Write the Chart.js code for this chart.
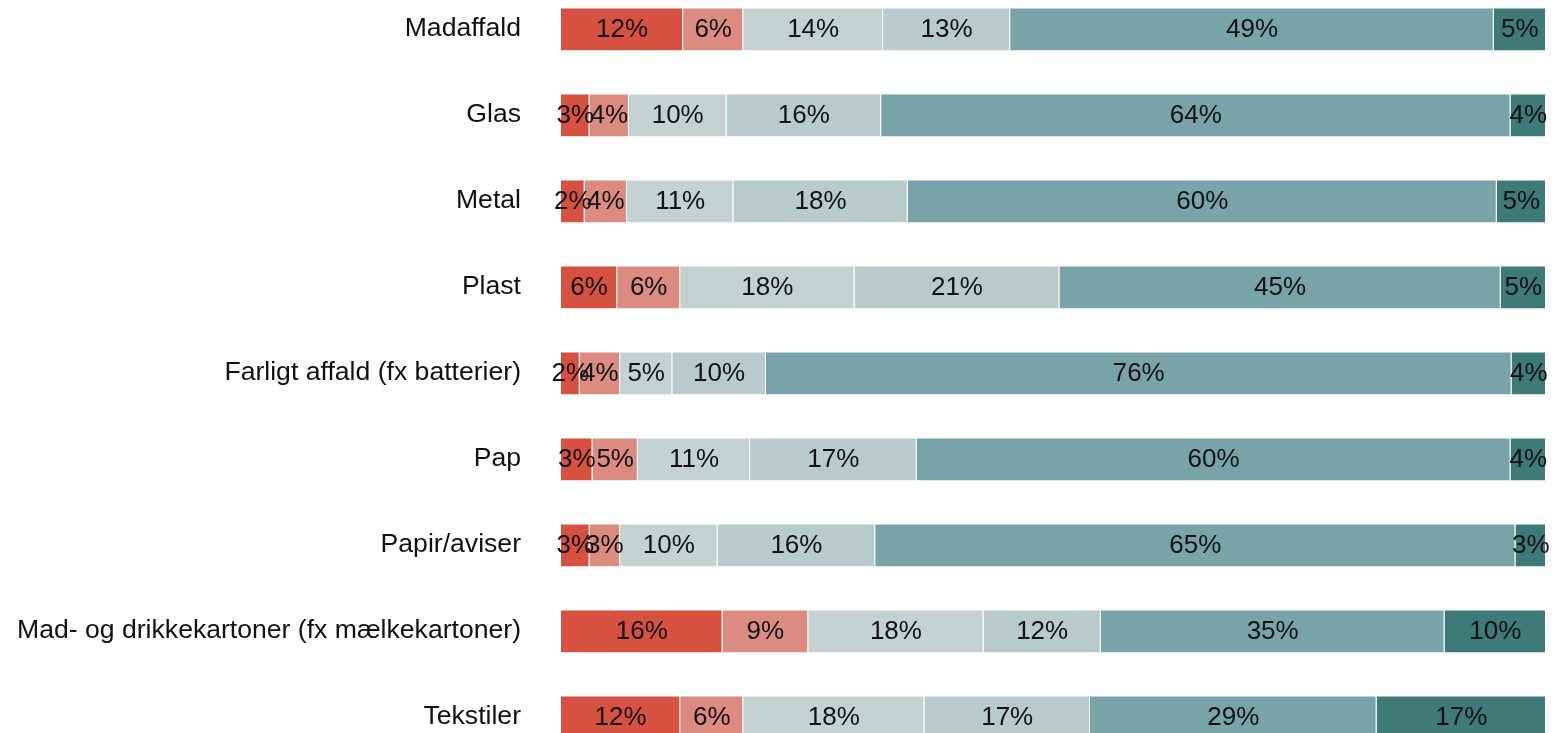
<!DOCTYPE html>
<html>
<head>
<meta charset="utf-8">
<script src="https://cdn.jsdelivr.net/npm/chart.js@4"></script>
<style>
  html, body { margin: 0; padding: 0; background: #fff; overflow: hidden; }
  #chart { position: absolute; left: 0; top: -14px; }
</style>
</head>
<body>
<canvas id="chart" width="1565" height="774"></canvas>
<script>
const categories = [
  'Madaffald',
  'Glas',
  'Metal',
  'Plast',
  'Farligt affald (fx batterier)',
  'Pap',
  'Papir/aviser',
  'Mad- og drikkekartoner (fx mælkekartoner)',
  'Tekstiler',
];

// shares per answer level (percent of row)
const level1 = [12.4, 2.9, 2.4, 5.7, 1.9, 3.2, 2.9, 16.4, 12.1];
const level2 = [6.1, 4.0, 4.3, 6.4, 4.1, 4.6, 3.1, 8.7, 6.4];
const level3 = [14.2, 9.9, 10.8, 17.7, 5.3, 11.4, 9.9, 17.8, 18.4];
const level4 = [12.9, 15.7, 17.7, 20.8, 9.5, 16.9, 16.0, 11.9, 16.8];
const level5 = [49.1, 63.9, 59.8, 44.8, 75.7, 60.3, 65.0, 34.9, 29.1];
const level6 = [5.3, 3.6, 5.0, 4.6, 3.5, 3.6, 3.1, 10.3, 17.2];

const colors = ['#d65140', '#db8b80', '#c4d1d1', '#b8caca', '#78a4a9', '#3d7a78'];

const FONT = "'Liberation Sans', Arial, sans-serif";

const segmentLabels = {
  id: 'segmentLabels',
  afterDatasetsDraw(chart) {
    const ctx = chart.ctx;
    ctx.save();
    ctx.font = '26px ' + FONT;
    ctx.fillStyle = '#111';
    ctx.textAlign = 'center';
    ctx.textBaseline = 'middle';
    chart.data.datasets.forEach((ds, i) => {
      chart.getDatasetMeta(i).data.forEach((bar, j) => {
        const cx = (bar.x + bar.base) / 2;
        ctx.fillText(Math.round(ds.data[j]) + '%', cx, bar.y + 1);
      });
    });
    ctx.restore();
  },
};

new Chart(document.getElementById('chart'), {
  type: 'bar',
  data: {
    labels: categories,
    datasets: [level1, level2, level3, level4, level5, level6].map((values, i) => ({
      data: values,
      backgroundColor: colors[i],
      borderColor: 'rgba(255,255,255,0.35)',
      borderWidth: { right: 1, top: 1 },
      borderSkipped: false,
      barPercentage: 0.5,
      categoryPercentage: 1,
    })),
  },
  options: {
    indexAxis: 'y',
    responsive: false,
    animation: false,
    layout: { padding: { left: 0, right: 19, top: 0, bottom: 0 } },
    plugins: {
      legend: { display: false },
      tooltip: { enabled: false },
    },
    scales: {
      x: {
        stacked: true,
        min: 0,
        max: 100,
        display: false,
      },
      y: {
        stacked: true,
        grid: { display: false, drawTicks: false },
        border: { display: false },
        ticks: {
          color: '#111',
          padding: 40,
          font: { family: FONT, size: 26.6 },
        },
        afterFit(scale) {
          // fixed label column, no extra label padding above/below
          scale.width = 561;
          scale.paddingTop = 0;
          scale.paddingBottom = 0;
        },
      },
    },
  },
  plugins: [segmentLabels],
});
</script>
</body>
</html>
